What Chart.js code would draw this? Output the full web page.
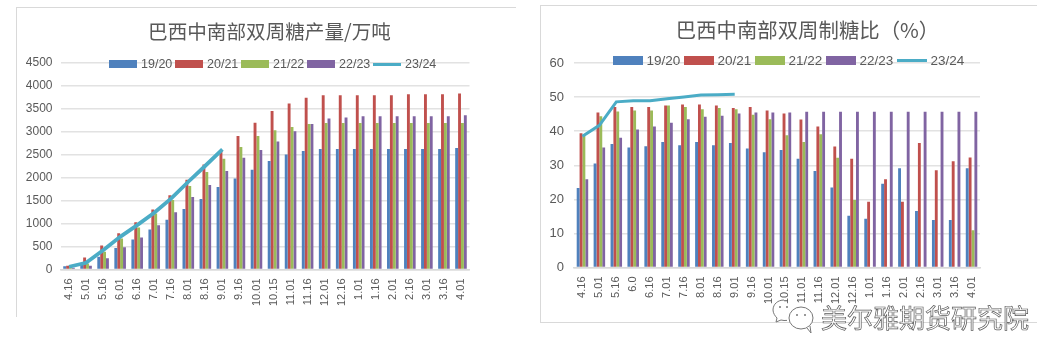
<!DOCTYPE html>
<html>
<head>
<meta charset="utf-8">
<script src="https://cdn.jsdelivr.net/npm/chart.js@4"></script>
<style>
html, body { margin: 0; padding: 0; background: #fff; }
body { width: 1063px; height: 364px; position: relative; overflow: hidden; font-family: "Liberation Sans", sans-serif; color: #595959; }
#charts { position: absolute; left: 0; top: 0; width: 1063px; height: 364px; filter: blur(0.4px); }
canvas { position: absolute; }
.frame { position: absolute; background: #d9d9d9; }
.title { position: absolute; font-family: "Noto Sans CJK SC"; white-space: nowrap; transform: translateX(-50%); color: #595959; }
.legend { position: absolute; display: flex; align-items: center; white-space: nowrap; }
.legend span { display: inline-block; }
#mark { position: absolute; left: 821px; top: 300px; font-family: "Noto Sans CJK SC"; font-size: 26px; line-height: 34px; color: #fff; -webkit-text-stroke: 0.7px #5a5a5a; white-space: nowrap; }
#bubble { position: absolute; left: 772px; top: 298px; }
</style>
</head>
<body>
<div id="charts">
<div class="frame" style="left:16px;top:7px;width:500px;height:1px"></div>
<div class="frame" style="left:16px;top:7px;width:1px;height:310px"></div>
<div class="frame" style="left:540px;top:5px;width:497px;height:1px"></div>
<div class="frame" style="left:540px;top:5px;width:1px;height:317px"></div>
<div class="frame" style="left:540px;top:322px;width:497px;height:1px"></div>

<canvas id="outputChart" width="490" height="330" style="left:0;top:0"></canvas>
<canvas id="ratioChart" width="460" height="330" style="left:540px;top:0"></canvas>
<div class="title" id="outputTitle" style="left:269.5px;top:16px;font-size:19.6px"></div>
<div class="title" id="ratioTitle" style="left:807.5px;top:14px;font-size:20.4px"></div>
<div class="legend" id="outputLegend" style="left:109px;top:56px;height:16px"></div>
<div class="legend" id="ratioLegend" style="left:612.5px;top:52px;height:17px"></div>
</div>

<svg id="bubble" width="46" height="38" viewBox="0 0 46 38">
  <path d="M12 2c-6 0-11 4-11 10 0 3 2 6 4 8l-1 4 5-2c2 .6 4 .6 6 .4" fill="#fff" stroke="#777" stroke-width="1"/>
  <ellipse cx="29" cy="20" rx="12" ry="11" fill="#fff" stroke="#777" stroke-width="1"/>
  <path d="M35 30l4 5-1-7" fill="#fff" stroke="#777" stroke-width="1"/>
  <circle cx="25" cy="17" r="1" fill="#777"/><circle cx="33" cy="17" r="1" fill="#777"/>
  <circle cx="8" cy="9" r="1" fill="#777"/><circle cx="15" cy="9" r="1" fill="#777"/>
</svg>
<div id="mark">美尔雅期货研究院</div>

<script>
const outputDates = ["4.16","5.01","5.16","6.01","6.16","7.01","7.16","8.01","8.16","9.01","9.16","10.01","10.15","11.01","11.16","12.01","12.16","1.01","1.16","2.01","2.16","3.01","3.16","4.01"];
const ratioDates = ["4.16","5.01","5.16","6.0","6.16","7.01","7.16","8.01","8.16","9.01","9.16","10.01","10.15","11.01","11.16","12.01","12.16","1.01","1.16","2.01","2.16","3.01","3.16","4.01"];
const seasons = ["19/20", "20/21", "21/22", "22/23", "23/24"];
const seasonColors = ["#4f81bd", "#c0504d", "#9bbb59", "#8064a2", "#4bacc6"];

// left chart, 万吨
const output1920 = [70,130,280,470,655,870,1083,1316,1534,1796,1985,2174,2363,2508,2580,2624,2624,2624,2624,2624,2624,2624,2624,2646];
const output2021 = [80,262,523,792,1032,1309,1620,1955,2290,2600,2908,3199,3453,3620,3744,3795,3795,3795,3795,3795,3817,3817,3817,3838];
const output2122 = [60,130,385,676,916,1221,1512,1817,2123,2414,2668,2908,3032,3104,3170,3191,3191,3191,3191,3191,3191,3191,3191,3191];
const output2223 = [40,80,247,487,698,967,1250,1578,1839,2145,2435,2603,2792,3010,3170,3293,3315,3337,3337,3337,3337,3337,3337,3359];
const output2324 = [60,145,420,712,967,1236,1548,1912,2261,2617];

// right chart, %
const ratio1920 = [23.3,30.5,36.2,35.2,35.6,36.8,35.9,36.8,35.9,36.5,34.9,33.8,34.5,31.9,28.3,23.5,15.2,14.3,24.6,29.1,16.6,13.9,13.9,29.1];
const ratio2021 = [39.4,45.5,47.1,47.1,47.1,47.5,47.8,47.8,47.5,46.8,47.1,46.1,45.2,43.4,41.4,35.5,31.9,19.3,25.9,19.3,36.5,28.5,31.2,32.3];
const ratio2122 = [38.8,44.4,45.8,46.1,46.1,47.5,47.1,46.4,46.8,46.4,44.8,43.5,38.8,36.8,39.1,32.2,19.8,null,null,null,null,null,null,10.9];
const ratio2223 = [25.9,35.2,38.1,40.5,41.4,42.5,43.5,44.2,44.5,45.2,45.5,45.5,45.5,45.7,45.7,45.7,45.7,45.7,45.7,45.7,45.7,45.7,45.7,45.7];
const ratio2324 = [38.5,41.7,48.6,48.9,48.9,49.5,50,50.6,50.7,50.8];

const gridColor = "#e2e2e2";
const textColor = "#595959";

// bars first, the 23/24 line is drawn on top of them
function makeDatasets(seriesList, lineWidth) {
    return seriesList.map((values, index) => {
        if (index === 4) {
            return { type: "line", label: seasons[index], data: values, borderColor: seasonColors[index], backgroundColor: seasonColors[index], borderWidth: lineWidth, pointRadius: 0, tension: 0, order: 0 };
        }
        return { type: "bar", label: seasons[index], data: values, backgroundColor: seasonColors[index], borderWidth: 0, categoryPercentage: 0.68, barPercentage: 1, order: 1 };
    });
}

function makeChart(canvasId, dates, seriesList, opts) {
    return new Chart(document.getElementById(canvasId), {
        type: "bar",
        data: { labels: dates, datasets: makeDatasets(seriesList, opts.lineWidth) },
        options: {
            responsive: false,
            animation: false,
            layout: { padding: opts.padding },
            plugins: { legend: { display: false }, title: { display: false }, tooltip: { enabled: false } },
            scales: {
                x: {
                    grid: { display: false, drawTicks: false },
                    border: { display: true, color: "#d9d9d9", width: 1.5 },
                    ticks: { autoSkip: false, minRotation: 90, maxRotation: 90, padding: opts.xPadding, color: textColor, font: { family: "Liberation Sans", size: opts.xFont } },
                    afterFit: (scale) => { scale.height = opts.axisHeight; }
                },
                y: {
                    min: 0,
                    max: opts.max,
                    grid: { color: gridColor, lineWidth: 1.5, drawTicks: false },
                    border: { display: false },
                    ticks: { stepSize: opts.step, padding: opts.yPadding, color: textColor, font: { family: "Liberation Sans", size: opts.yFont }, format: { useGrouping: false } },
                    afterFit: (scale) => { scale.width = opts.axisWidth; }
                }
            }
        }
    });
}

function makeLegend(elementId, swatchWidth, swatchHeight, fontSize, textWidth) {
    const box = document.getElementById(elementId);
    seasons.forEach((season, index) => {
        const swatch = document.createElement("span");
        swatch.style.width = swatchWidth + "px";
        swatch.style.height = (index === 4 ? 3 : swatchHeight) + "px";
        swatch.style.background = seasonColors[index];
        const label = document.createElement("span");
        label.textContent = season;
        label.style.fontSize = fontSize + "px";
        label.style.width = textWidth + "px";
        label.style.margin = "0 4px 0 4px";
        box.appendChild(swatch);
        box.appendChild(label);
    });
}

document.getElementById("outputTitle").textContent = "巴西中南部双周糖产量/万吨";
document.getElementById("ratioTitle").textContent = "巴西中南部双周制糖比（%）";

makeChart("outputChart", outputDates, [output1920, output2021, output2122, output2223, output2324], {
    padding: { left: 0, right: 20.5, top: 63, bottom: 0 },
    axisWidth: 60.5, axisHeight: 60.5, max: 4500, step: 500, xFont: 11, yFont: 12, xPadding: 9, yPadding: 8, lineWidth: 3.8
});
makeChart("ratioChart", ratioDates, [ratio1920, ratio2021, ratio2122, ratio2223, ratio2324], {
    padding: { left: 0, right: 20, top: 63, bottom: 0 },
    axisWidth: 34, axisHeight: 62.5, max: 60, step: 10, xFont: 11, yFont: 13, xPadding: 9, yPadding: 10, lineWidth: 3
});

makeLegend("outputLegend", 28, 8, 12.5, 30);
makeLegend("ratioLegend", 30, 8.5, 13.5, 33);
</script>
</body>
</html>
